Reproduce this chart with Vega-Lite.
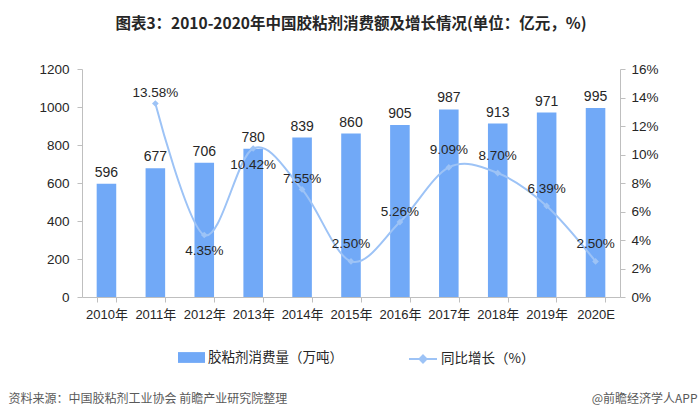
{
  "$schema": "https://vega.github.io/schema/vega-lite/v6.json",
  "width": 538,
  "height": 228,
  "autosize": {"type": "none"},
  "padding": {"left": 82, "top": 69, "right": 80, "bottom": 121},
  "background": "white",
  "config": {
    "view": {"stroke": null},
    "font": "Liberation Sans, Noto Sans CJK SC",
    "axis": {"labelFont": "Liberation Sans, Noto Sans CJK SC", "labelColor": "#262626", "domainColor": "#BFBFBF", "tickColor": "#BFBFBF", "grid": false, "labelFontSize": 13.5, "labelOverlap": false},
    "legend": {"labelFont": "Noto Sans CJK SC", "labelFontSize": 13.5, "labelColor": "#262626", "padding": 0}
  },
  "title": {
    "text": "图表3：2010-2020年中国胶粘剂消费额及增长情况(单位：亿元，%)",
    "font": "Noto Sans CJK SC",
    "fontSize": 15.5,
    "fontWeight": "bold",
    "color": "#262626",
    "anchor": "middle",
    "frame": "group",
    "offset": 30
  },
  "data": {
    "values": [
      {"year": "2010年", "value": 596, "growth": null, "glabel": ""},
      {"year": "2011年", "value": 677, "growth": 13.58, "glabel": "13.58%"},
      {"year": "2012年", "value": 706, "growth": 4.35, "glabel": "4.35%"},
      {"year": "2013年", "value": 780, "growth": 10.42, "glabel": "10.42%"},
      {"year": "2014年", "value": 839, "growth": 7.55, "glabel": "7.55%"},
      {"year": "2015年", "value": 860, "growth": 2.50, "glabel": "2.50%"},
      {"year": "2016年", "value": 905, "growth": 5.26, "glabel": "5.26%"},
      {"year": "2017年", "value": 987, "growth": 9.09, "glabel": "9.09%"},
      {"year": "2018年", "value": 913, "growth": 8.70, "glabel": "8.70%"},
      {"year": "2019年", "value": 971, "growth": 6.39, "glabel": "6.39%"},
      {"year": "2020E", "value": 995, "growth": 2.50, "glabel": "2.50%"}
    ]
  },
  "encoding": {
    "x": {
      "field": "year",
      "type": "ordinal",
      "sort": null,
      "scale": {"paddingInner": 0.6, "paddingOuter": 0.3},
      "axis": {
        "title": "资料来源：中国胶粘剂工业协会 前瞻产业研究院整理",
        "titleFont": "Noto Sans CJK SC",
        "titleFontSize": 12,
        "titleFontWeight": "normal",
        "titleColor": "#595959",
        "titleX": -74,
        "titleY": 101,
        "titleAlign": "left",
        "titleAnchor": null,
        "titleBaseline": "middle",
        "labelAngle": 0,
        "tickBand": "extent",
        "tickSize": 5,
        "labelPadding": 6,
        "labelFontSize": 13
      }
    }
  },
  "layer": [
    {
      "encoding": {
        "y": {
          "field": "value",
          "type": "quantitative",
          "scale": {"domain": [0, 1200]},
          "axis": {"title": null, "values": [0, 200, 400, 600, 800, 1000, 1200], "format": "d", "tickSize": 5, "labelPadding": 8, "labelOverlap": false}
        }
      },
      "layer": [
        {
          "mark": {"type": "bar"},
          "encoding": {
            "fill": {
              "datum": "胶粘剂消费量（万吨）",
              "scale": {"range": ["#71A9F7"]},
              "legend": {
                "title": null,
                "orient": "none",
                "legendX": 96,
                "legendY": 275,
                "symbolType": "M-1,-0.4H1V0.4H-1Z",
                "symbolSize": 729,
                "symbolStrokeWidth": 0,
                "labelOffset": 3
              }
            }
          }
        },
        {
          "mark": {"type": "text", "baseline": "middle", "dy": -11, "fontSize": 14, "color": "#262626", "font": "Liberation Sans"},
          "encoding": {
            "text": {"field": "value", "type": "quantitative"}
          }
        }
      ]
    },
    {
      "encoding": {
        "y": {
          "field": "growth",
          "type": "quantitative",
          "scale": {"domain": [0, 16]},
          "axis": {
            "orient": "right",
            "values": [0, 2, 4, 6, 8, 10, 12, 14, 16],
            "labelExpr": "datum.value + '%'",
            "labelOverlap": false,
            "tickSize": 5,
            "labelPadding": 6,
            "title": "@前瞻经济学人APP",
            "titleFont": "Noto Sans CJK SC",
            "titleFontSize": 12,
            "titleFontWeight": "normal",
            "titleColor": "#595959",
            "titleAngle": 0,
            "titleX": 77,
            "titleY": 329,
            "titleAlign": "right",
            "titleAnchor": null,
            "titleBaseline": "middle"
          }
        }
      },
      "layer": [
        {
          "mark": {"type": "line", "interpolate": "cardinal", "strokeWidth": 2},
          "encoding": {
            "stroke": {
              "datum": "同比增长（%）",
              "scale": {"range": ["#9DC3F6"]},
              "legend": {
                "title": null,
                "orient": "none",
                "legendX": 326,
                "legendY": 275,
                "symbolType": "M-1,0H1M0,-0.25L0.25,0L0,0.25L-0.25,0Z",
                "symbolSize": 784,
                "symbolStrokeWidth": 2,
                "symbolFillColor": "#9DC3F6",
                "labelOffset": 3
              }
            }
          }
        },
        {
          "mark": {"type": "point", "shape": "diamond", "filled": true, "color": "#9DC3F6", "size": 45, "opacity": 1}
        },
        {
          "transform": [{"filter": {"field": "year", "oneOf": ["2011年", "2014年", "2016年"]}}],
          "mark": {"type": "text", "baseline": "middle", "dy": -10, "fontSize": 13.5, "color": "#262626", "font": "Liberation Sans"},
          "encoding": {"text": {"field": "glabel"}}
        },
        {
          "transform": [{"filter": {"field": "year", "oneOf": ["2015年", "2017年", "2018年", "2019年", "2020E"]}}],
          "mark": {"type": "text", "baseline": "middle", "dy": -17, "fontSize": 13.5, "color": "#262626", "font": "Liberation Sans"},
          "encoding": {"text": {"field": "glabel"}}
        },
        {
          "transform": [{"filter": {"field": "year", "oneOf": ["2012年", "2013年"]}}],
          "mark": {"type": "text", "baseline": "middle", "dy": 16, "fontSize": 13.5, "color": "#262626", "font": "Liberation Sans"},
          "encoding": {"text": {"field": "glabel"}}
        }
      ]
    }
  ],
  "resolve": {"scale": {"y": "independent", "fill": "independent", "stroke": "independent"}}
}
